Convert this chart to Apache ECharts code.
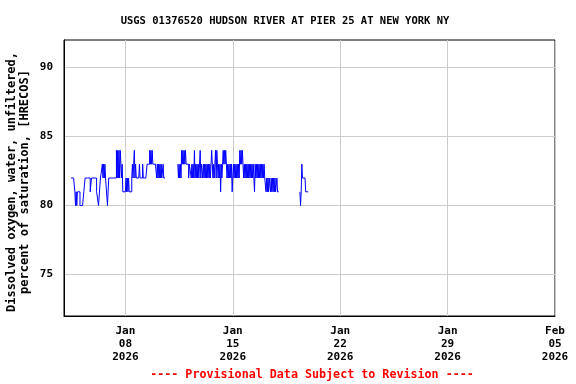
<!DOCTYPE html>
<html><head><meta charset="utf-8">
<script src="https://cdn.jsdelivr.net/npm/echarts@6/dist/echarts.min.js"></script>
<style>html,body{margin:0;padding:0;background:#fff}#c{width:576px;height:384px}</style>
</head><body><div id="c"></div>
<script>
const titleText = 'USGS 01376520 HUDSON RIVER AT PIER 25 AT NEW YORK NY';
const yAxisTitle = ['Dissolved oxygen, water, unfiltered,', 'percent of saturation, [HRECOS]'];
const footerText = '---- Provisional Data Subject to Revision ----';
const xMinDay = 4;   // Jan 04 2026
const xMaxDay = 36;  // Feb 05 2026
const xTickDays = [8, 15, 22, 29, 36];
const xTickLabels = ['Jan\n08\n2026', 'Jan\n15\n2026', 'Jan\n22\n2026', 'Jan\n29\n2026', 'Feb\n05\n2026'];
const yMin = 72, yMax = 92;
const yTicks = [75, 80, 85, 90];
const baseValue = 80;
// Hourly readings, one string per day starting Jan 04; each digit = percent - 80, '-' = no data
const jan04 = "-----------2222221010111";
const jan05 = "100000011222222221122222";
const jan06 = "222111000222323232220022";
const jan07 = "222222222242424243231111";
const jan08 = "121212111123234232222232";
const jan09 = "222322222233334343433333";
const jan10 = "32323232322322----------";
const jan11 = "----------32323243434343";
const jan12 = "333233323232423232323423";
const jan13 = "323232323232322432323424";
const jan14 = "323231323434343232323231";
const jan15 = "232323232324343432323232";
const jan16 = "323232323313232323232323";
const jan17 = "232212121221212121211211";
const jan18 = "------------------------";
const jan19 = "---------1013222221111--";
const days = [jan04, jan05, jan06, jan07, jan08, jan09, jan10, jan11, jan12, jan13, jan14, jan15, jan16, jan17, jan18, jan19];

const points = [];
days.forEach((s, i) => {
  for (let h = 0; h < s.length; h++) {
    const ch = s[h];
    points.push([xMinDay + i + h / 24, ch === '-' ? null : baseValue + Number(ch)]);
  }
});

const font = '"DejaVu Sans Mono", "Liberation Mono", monospace';
const chart = echarts.init(document.getElementById('c'), null, {renderer: 'canvas'});
chart.setOption({
  animation: false,
  backgroundColor: '#ffffff',
  title: [
    {text: titleText, left: 280, top: 11, textAlign: 'center',
     textStyle: {fontFamily: font, fontSize: 10.5, fontWeight: 'bold', color: '#000'}},
    {text: footerText, left: 307, top: 364, textAlign: 'center',
     textStyle: {fontFamily: font, fontSize: 11.7, fontWeight: 'bold', color: '#ff0000'}}
  ],
  graphic: [{
    type: 'text', x: 18, y: 182, rotation: Math.PI / 2,
    style: {text: yAxisTitle.join('\n'), font: 'bold 12px ' + font, fill: '#000',
            align: 'center', verticalAlign: 'middle', lineHeight: 13}
  }],
  grid: {left: 64, top: 40, right: 21, bottom: 68, show: true, borderColor: '#000', borderWidth: 1, backgroundColor: 'transparent'},
  xAxis: {
    type: 'value', min: xMinDay, max: xMaxDay,
    axisLine: {show: true, lineStyle: {color: '#000', width: 1}},
    axisTick: {show: false, customValues: xTickDays},
    splitLine: {show: true, lineStyle: {color: '#cccccc', width: 1}},
    axisLabel: {customValues: xTickDays, margin: 9, fontFamily: font, fontSize: 11, fontWeight: 'bold', color: '#000', lineHeight: 13,
      formatter: v => xTickLabels[xTickDays.indexOf(Math.round(v))] || ''}
  },
  yAxis: {
    type: 'value', min: yMin, max: yMax,
    axisLine: {show: true, lineStyle: {color: '#000', width: 1}},
    axisTick: {show: false, customValues: yTicks},
    splitLine: {show: true, lineStyle: {color: '#cccccc', width: 1}},
    axisLabel: {customValues: yTicks, margin: 11, fontFamily: font, fontSize: 11, fontWeight: 'bold', color: '#000'}
  },
  series: [{
    type: 'line', data: points, step: 'end', showSymbol: false, connectNulls: false,
    lineStyle: {color: '#0000ff', width: 1}, itemStyle: {color: '#0000ff'}
  }]
});
</script>
</body></html>
